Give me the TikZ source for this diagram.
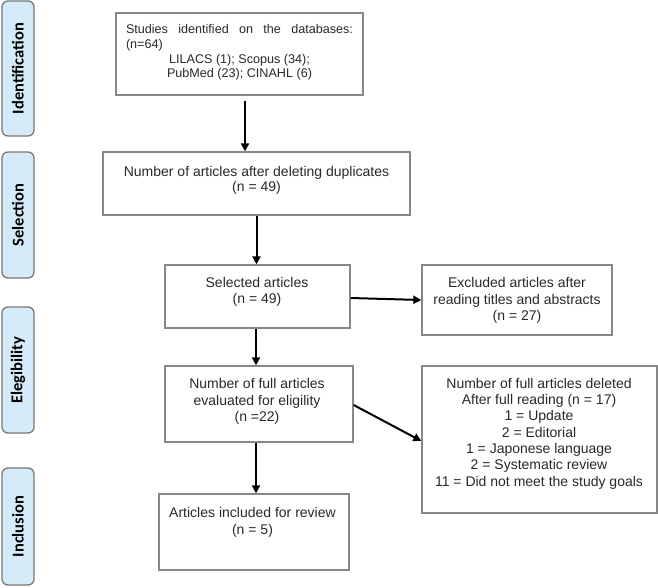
\documentclass[tikz,border=0pt]{standalone}
\usepackage{fontspec}
\setmainfont{Liberation Sans}
\newfontfamily\labfont{Carlito}
\usetikzlibrary{arrows.meta,calc}
\definecolor{boxline}{RGB}{135,135,135}
\definecolor{labfill}{RGB}{214,235,250}
\definecolor{labline}{RGB}{120,120,120}
\definecolor{txt}{RGB}{40,40,40}
\tikzset{
  box/.style={draw=boxline, line width=1.3pt, rectangle, inner sep=0pt},
  lab/.style={draw=labline, fill=labfill, line width=1.3pt, rounded corners=6pt, inner sep=0pt, minimum width=32pt},
  labtext/.style={rotate=90, font=\labfont\bfseries\fontsize{16.5}{18}\selectfont, text=black, inner sep=0pt},
  btext/.style={align=center, text=txt, inner sep=0pt, font=\fontsize{14}{16.3}\selectfont},
  arr/.style={line width=2pt, -{Triangle[length=8pt,width=8pt]}, black}
}
\begin{document}
\begin{tikzpicture}[x=1pt,y=-1pt]
\useasboundingbox (0,0) rectangle (658,587);
% phase labels
\node[lab, minimum height=135pt] (lid) at (18,68.5) {};
\node[labtext] (lidt) at (lid) {Identification};
\node[lab, minimum height=126pt] (lsel) at (18,215) {};
\node[labtext] (lselt) at (lsel) {Selection};
\node[lab, minimum height=126pt] (lel) at (18,370) {};
\node[labtext] (lelt) at (lel) {Elegibility};
\node[lab, minimum height=117pt] (linc) at (18,526.5) {};
\node[labtext] (linct) at (linc) {Inclusion};
% boxes
\node[box, minimum width=247pt, minimum height=82pt] (b1) at (239.5,54) {};
\node[box, minimum width=307pt, minimum height=63pt] (b2) at (256.5,183.5) {};
\node[box, minimum width=185pt, minimum height=63pt] (b3) at (257.5,296.5) {};
\node[box, minimum width=190pt, minimum height=70pt] (exc) at (517,300) {};
\node[box, minimum width=188pt, minimum height=76pt] (b4) at (259,404) {};
\node[box, minimum width=235pt, minimum height=147pt] (b5) at (539.5,439.5) {};
\node[box, minimum width=190pt, minimum height=76pt] (b6) at (254,532) {};
% texts
\node[btext, font=\fontsize{12.6}{14.7}\selectfont] (t1) at (239.5,52.5) {\makebox[227pt][s]{Studies identified on the databases:}\\\makebox[227pt][l]{(n=64)}\\LILACS (1); Scopus (34);\\PubMed (23); CINAHL (6)};
\node[btext, font=\fontsize{14}{15}\selectfont] (t2) at (256.5,180) {Number of articles after deleting duplicates\\(n = 49)};
\node[btext] (t3) at (257,292) {Selected articles\\(n = 49)};
\node[btext] (texc) at (517,300.5) {Excluded articles after\\reading titles and abstracts\\(n = 27)};
\node[btext] (t4) at (257,401.5) {Number of full articles\\evaluated for eligility\\(n =22)};
\node[btext] (t5) at (539,433.5) {Number of full articles deleted\\After full reading (n = 17)\\1 = Update\\2 = Editorial\\1 = Japonese language\\2 = Systematic review\\11 = Did not meet the study goals};
\node[btext] (t6) at (252.5,522.5) {Articles included for review\\(n = 5)};
% connectors
\coordinate (a1s) at ($(b1.south)+(5.5,5)$);
\draw[arr] (a1s) -- (a1s |- b2.north);
\draw[arr] (b2.south) -- (b2.south |- b3.north);
\draw[arr] ([xshift=-1.5pt]b3.south) -- ([xshift=-1.5pt]b3.south |- b4.north);
\draw[arr] ([xshift=-3pt]b4.south) -- ([xshift=-3pt]b4.south |- b6.north);
\draw[arr] ([yshift=-1.5pt]b3.east) -- (exc.west);
\draw[arr] ([yshift=-1pt]b4.east) -- ([yshift=-1.5pt]b5.west);
\end{tikzpicture}
\end{document}
